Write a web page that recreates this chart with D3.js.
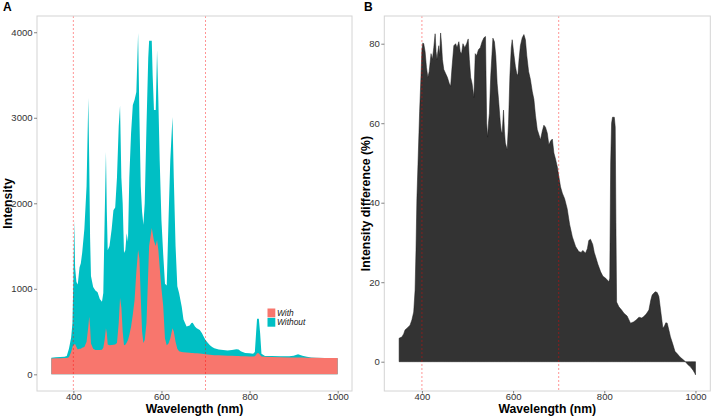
<!DOCTYPE html>
<html>
<head>
<meta charset="utf-8">
<script src="https://cdn.jsdelivr.net/npm/d3@7"></script>
<style>
  html, body { margin: 0; padding: 0; background: #fff; }
  svg { display: block; font-family: "Liberation Sans", Arial, sans-serif; }
</style>
</head>
<body>
<div id="chart"></div>
<script>
// ---- Panel A data: wavelength (nm), intensity without / with ----
const wavelengthA = [350,360,370,380,385,390,395,398,400,402,404,407,410,414,417,420,425,430,434,436,438,440,445,450,455,460,465,468,471,474,476,478,482,487,491,495,499,503,506,509,512,515,518,521,524,527,531,535,539,543,547,550,553,556,559,562,566,570,572,578,580,583,587,590,593,596,600,604,608,612,616,620,625,628,632,636,640,646,650,657,664,668,671,676,680,687,692,696,700,705,710,715,720,730,740,750,760,770,775,780,790,800,808,812,815,817,821,824,827,835,850,870,890,900,910,920,930,940,950,970,990,1000];
const intensityWithout = [195,200,202,205,215,300,430,600,1100,1800,1250,1080,1050,1250,1300,1420,1700,2200,3230,2500,1600,1150,1020,980,960,880,850,950,1800,2600,1900,1450,1500,1700,1920,1950,2300,2900,3140,2300,2000,1420,1450,1650,1550,2300,2820,3150,3210,3300,3990,3000,2200,1900,1750,2000,2900,3700,3900,3900,3500,3090,3090,3790,3200,2500,1800,1400,1060,1040,1800,2500,3010,2300,1500,1030,950,790,640,560,570,600,604,560,540,518,480,440,400,370,340,320,305,290,284,280,285,292,290,270,250,245,240,260,500,650,650,480,240,215,213,210,210,218,234,218,205,198,194,192,190,189];
const intensityWith = [185,187,188,190,192,200,260,320,340,350,354,320,290,300,300,310,320,380,560,674,560,360,300,285,284,285,288,310,400,540,480,350,340,343,345,350,366,600,892,780,500,340,345,370,400,460,557,700,869,1200,1454,1350,900,500,366,400,600,1200,1500,1711,1650,1560,1500,1571,1450,1250,1000,800,420,340,360,420,540,500,380,300,270,262,258,254,252,250,249,247,245,243,240,238,235,232,229,226,224,222,220,218,216,214,213,212,210,208,207,210,230,245,245,225,208,205,203,200,198,197,197,196,195,194,193,192,191,191];

// ---- Panel B data: intensity difference (%) ----
const wavelengthB = [350,352,356,360,363,368,374,378,382,385,387,389,392,395,398,400,402,404,407,410,413,416,420,423,426,429,431,433,435,437,439,441,443,445,448,452,456,460,463,466,470,474,477,481,484,487,490,494,498,501.5,504,507,510,514,517,520,524,528,532,536,539.5,542,544,546,548,551,555.7,559,562,565,568,572,574,576,579,581,583,587,590,593,596,598,601,605,608,610.5,613,616,620,623.7,627,630,634,638,642,645.6,649,653,657,660,664,667.5,671,675,678.5,682,686,689.5,693,697,700.4,704,708,713,718.6,724,730,737,744,749,753,758.8,763,766,769.7,774.6,778,781,786,792,797,803,810,812,814,816,818,822,824,825.5,827,832,838,843,850,857.5,864,870,876,882,886,892,897.8,902,905,909,912,916,919.7,924,928.5,932,935,938,942,945,950,955,960,966,972,978,983,989,995,998.6,1000];
const diffPercent = [5.9,6,6.2,7,8,8.5,9.2,10.5,12.5,18,28,41,52,63,72,78.5,80.2,80,78,74,71.5,73,77.5,76,79,82.5,78,76,78,79.5,77,82.7,80,76,73.5,72.5,71.5,70,69.3,74,79.5,80,79,80.5,78,77.5,80,79,80,81.2,76,71.5,70,66.5,77.5,77,78.5,79,80.5,81.5,81.8,60,56.5,60,62.5,72,81.4,80.5,77,70,66,60,58,57.5,63.3,58,55,53.3,60,72,79,81,78,74.3,72.5,72,76,79.5,81.5,82.3,81,77,73,71,68,66,62,58.4,57,55.8,58,59.5,59,57.5,54.5,55.5,56,52.5,51,49,46.5,44,42.4,41,38.5,34.5,31.4,29,27.7,27.5,28,27.3,28.5,30.5,30.8,29.5,27.5,26.4,24.5,22.6,21.5,21,20.1,21,50,60,61.5,61.5,59,35,15,13.8,13,12.2,11.5,9.7,10,10.5,11.2,11,11.3,12,13,15.5,16.8,17.3,17.6,17.4,16.4,12.5,8.4,9,9.8,9.7,7.8,6.3,4.5,2.6,2,1.2,0.6,0,-0.7,-1.3,-2.2,-2.9,-3.3];

const xTicks = [400, 600, 800, 1000];
const yTicksA = [0, 1000, 2000, 3000, 4000];
const yTicksB = [0, 20, 40, 60, 80];
const refLines = [400, 700];
const seriesNames = ["With", "Without"];
const seriesColors = ["#F8766D", "#00BFC4"];

const W = 712, H = 417;
const svg = d3.select("#chart").append("svg").attr("width", W).attr("height", H);
const fmt = d3.format("d");

function panel(opts) {
  const g = svg.append("g");
  const x = d3.scaleLinear().domain([317.5, 1032.5]).range([opts.left, opts.right]);
  const y = d3.scaleLinear().domain(opts.yDomain).range([opts.bottom, opts.top]);
  const clipId = "clip" + opts.id;
  svg.append("clipPath").attr("id", clipId).append("rect")
    .attr("x", opts.left).attr("y", opts.top)
    .attr("width", opts.right - opts.left).attr("height", opts.bottom - opts.top);
  const plot = g.append("g").attr("clip-path", `url(#${clipId})`);
  opts.draw(plot, x, y);
  plot.selectAll("line.ref").data(refLines).enter().append("line")
    .attr("x1", d => x(d)).attr("x2", d => x(d))
    .attr("y1", opts.top).attr("y2", opts.bottom)
    .attr("stroke", "#ff0000").attr("stroke-opacity", 0.6)
    .attr("stroke-width", 0.7).attr("stroke-dasharray", "2,2");
  g.append("rect").attr("x", opts.left).attr("y", opts.top)
    .attr("width", opts.right - opts.left).attr("height", opts.bottom - opts.top)
    .attr("fill", "none").attr("stroke", "#d4d4d4").attr("stroke-width", 1);
  const xAxis = d3.axisBottom(x).tickValues(xTicks).tickFormat(fmt).tickSize(2.5).tickPadding(0);
  const gx = g.append("g").attr("transform", `translate(0,${opts.bottom})`).call(xAxis);
  const yAxis = d3.axisLeft(y).tickValues(opts.yTicks).tickFormat(fmt).tickSize(3).tickPadding(1.5);
  const gy = g.append("g").attr("transform", `translate(${opts.left},0)`).call(yAxis);
  [gx, gy].forEach(a => {
    a.select(".domain").remove();
    a.selectAll(".tick line").attr("stroke", "#333").attr("stroke-width", 0.6);
    a.selectAll(".tick text").attr("fill", "#333").style("font-size", "9.5px")
      .style("font-family", "'Liberation Sans', Arial, sans-serif");
  });
  svg.append("text").attr("x", (opts.left + opts.right) / 2).attr("y", 413.3)
    .attr("text-anchor", "middle").style("font-weight", "bold").style("font-size", "12.2px")
    .text("Wavelength (nm)");
  svg.append("text").attr("transform", `translate(${opts.yTitleX},${(opts.top + opts.bottom) / 2}) rotate(-90)`)
    .attr("text-anchor", "middle").style("font-weight", "bold").style("font-size", "12.3px")
    .text(opts.yTitle);
  svg.append("text").attr("x", opts.tagX).attr("y", 11)
    .style("font-weight", "bold").style("font-size", "12px").text(opts.tag);
  return {x, y};
}

panel({
  id: "A", left: 37, right: 352, top: 16, bottom: 391,
  yDomain: [-195, 4190], yTicks: yTicksA, yTitle: "Intensity", yTitleX: 11.5,
  tag: "A", tagX: 3,
  draw: (plot, x, y) => {
    const without = wavelengthA.map((w, i) => [w, intensityWithout[i]]);
    const withS = wavelengthA.map((w, i) => [w, intensityWith[i]]);
    const area = d3.area().x(d => x(d[0])).y0(y(0)).y1(d => y(d[1]));
    plot.append("path").datum(without).attr("d", area).attr("fill", seriesColors[1]);
    plot.append("path").datum(withS).attr("d", area).attr("fill", seriesColors[0]);
  }
});

panel({
  id: "B", left: 384.3, right: 710.3, top: 16, bottom: 391,
  yDomain: [-7.37, 86.97], yTicks: yTicksB, yTitle: "Intensity difference (%)", yTitleX: 369.5,
  tag: "B", tagX: 364,
  draw: (plot, x, y) => {
    const data = wavelengthB.map((w, i) => [w, diffPercent[i]]);
    const area = d3.area().x(d => x(d[0])).y0(y(0)).y1(d => y(d[1]));
    plot.append("path").datum(data).attr("d", area)
      .attr("fill", "#333333").attr("stroke", "#1a1a1a").attr("stroke-width", 0.5);
  }
});

const legStep = 9.4;
const leg = svg.append("g").attr("transform", "translate(267.5,308.5)");
seriesNames.forEach((name, i) => {
  leg.append("rect").attr("x", 0).attr("y", i * legStep).attr("width", 7.8).attr("height", legStep - 0.6)
    .attr("fill", seriesColors[i]);
  leg.append("text").attr("x", 9.5).attr("y", i * legStep + 7.3)
    .style("font-style", "italic").style("font-size", "8.4px").attr("fill", "#222").text(name);
});
</script>
</body>
</html>
